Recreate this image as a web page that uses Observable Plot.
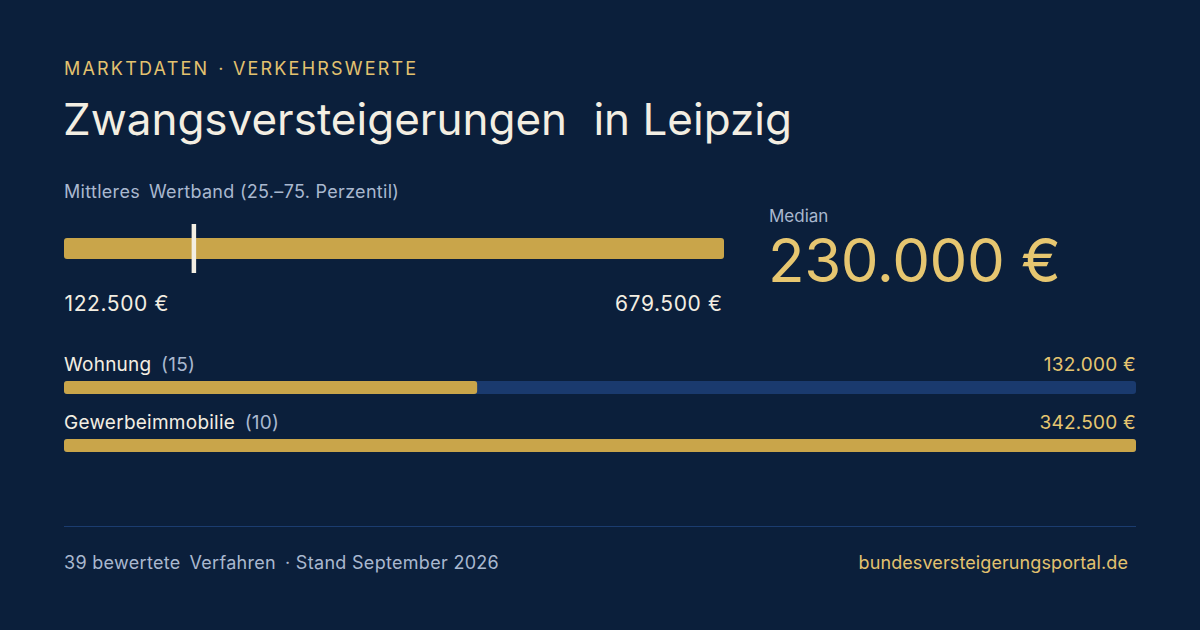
<!DOCTYPE html>
<html lang="de">
<head>
<meta charset="utf-8">
<script src="https://cdn.jsdelivr.net/npm/d3@7"></script>
<script src="https://cdn.jsdelivr.net/npm/@observablehq/plot@0.6"></script>
<style>
  html, body { margin: 0; padding: 0; }
  body {
    width: 1200px; height: 630px; overflow: hidden; position: relative;
    background: #0b1f3b; font-family: Inter, "Noto Sans", sans-serif; color: #f3eee2;
  }
  .abs { position: absolute; line-height: 1; white-space: nowrap; }
  .gap { display: inline-block; width: 0.5em; }
  #eyebrow { left: 64px; top: 60px; font-size: 18px; letter-spacing: 2.2px; color: #e3c26f; }
  #title { left: 63px; top: 96.5px; font-size: 44px; color: #f3eee2; letter-spacing: 0px; }
  #title .gap { width: 0.6em; }
  #subtitle { left: 64px; top: 182.5px; font-size: 18px; letter-spacing: 0.3px; color: #a9b8cf; }
  #medianLabel { left: 769px; top: 208px; font-size: 17px; color: #a9b8cf; }
  #medianValue { left: 768px; top: 230px; font-size: 60px; color: #e6c670; letter-spacing: -0.4px; }
  #band { left: 64px; top: 220px; }
  #rows { left: 64px; top: 345px; }
  .rowlabel { left: 64px; width: 1072px; font-size: 19px; letter-spacing: 0.25px; display: flex; justify-content: space-between; }
  .rowlabel .cnt { color: #a9b8cf; }
  .rowlabel .val { color: #e6c670; }
  #rule { left: 64px; top: 526px; width: 1072px; height: 1px; background: #1b3c6f; }
  #footL { left: 64px; top: 554px; font-size: 18px; letter-spacing: 0.3px; color: #a9b8cf; }
  #footR { right: 72px; top: 554px; font-size: 18px; letter-spacing: 0.1px; color: #e3c26f; }
</style>
</head>
<body>
<div id="eyebrow" class="abs"></div>
<div id="title" class="abs"></div>
<div id="subtitle" class="abs"></div>
<div id="medianLabel" class="abs"></div>
<div id="medianValue" class="abs"></div>
<div id="band" class="abs"></div>
<div id="rows" class="abs"></div>
<div id="rule" class="abs"></div>
<div id="footL" class="abs"></div>
<div id="footR" class="abs"></div>
<script>
// ---- data ----
const eyebrowParts = ["MARKTDATEN", "· VERKEHRSWERTE"];
const titleParts = ["Zwangsversteigerungen", "in Leipzig"];
const subtitleParts = ["Mittleres", "Wertband (25.–75. Perzentil)"];
const medianLabel = "Median";
const p25 = 122500;
const p75 = 679500;
const median = 230000;
const categories = ["Wohnung", "Gewerbeimmobilie"];
const counts = [15, 10];
const medians = [132000, 342500];
const footerParts = ["39 bewertete", "Verfahren", "· Stand September 2026"];
const source = "bundesversteigerungsportal.de";

const fmt = v => v.toLocaleString("de-DE") + " €";
const join = parts => parts.map(p => `<span>${p}</span>`).join('<span class="gap"></span>');

document.getElementById("eyebrow").innerHTML = join(eyebrowParts);
document.getElementById("title").innerHTML = join(titleParts);
document.getElementById("subtitle").innerHTML = join(subtitleParts);
document.getElementById("medianLabel").textContent = medianLabel;
document.getElementById("medianValue").textContent = fmt(median);
document.getElementById("footL").innerHTML = join(footerParts);
document.getElementById("footR").textContent = source;

const GOLD = "#c9a54a", CREAM = "#f3eee2", TRACK = "#1a3a6e";

// ---- band chart ----
const bandData = [{k: "IQR", lo: p25, hi: p75, med: median}];
const band = Plot.plot({
  width: 660, height: 100,
  marginTop: 4, marginBottom: 47, marginLeft: 0, marginRight: 0,
  x: {domain: [p25, p75], axis: null},
  y: {domain: ["IQR"], padding: 0, axis: null},
  style: {background: "transparent", fontFamily: "Inter, 'Noto Sans', sans-serif", letterSpacing: "0.6px", overflow: "visible"},
  marks: [
    Plot.barX(bandData, {x1: "lo", x2: "hi", y: "k", fill: GOLD, insetTop: 14, insetBottom: 14, rx: 3}),
    Plot.tickX(bandData, {x: "med", y: "k", dx: 2, stroke: CREAM, strokeWidth: 4.5}),
    Plot.text(bandData, {x: "lo", y: "k", text: d => fmt(d.lo), textAnchor: "start", lineAnchor: "bottom", dy: 61.5, fill: CREAM, fontSize: 21}),
    Plot.text(bandData, {x: "hi", y: "k", text: d => fmt(d.hi), textAnchor: "end", lineAnchor: "bottom", dy: 61.5, dx: -2, fill: CREAM, fontSize: 21})
  ]
});
document.getElementById("band").appendChild(band);

// ---- category rows ----
const maxV = d3.max(medians);
const rows = categories.map((c, i) => ({cat: c, n: counts[i], v: medians[i], max: maxV}));
const rowPlot = Plot.plot({
  width: 1072, height: 116,
  margin: 0,
  x: {domain: [0, maxV], axis: null},
  y: {domain: categories, padding: 0, axis: null},
  style: {background: "transparent", overflow: "visible"},
  marks: [
    Plot.barX(rows, {x1: 0, x2: "max", y: "cat", fill: TRACK, insetTop: 36, insetBottom: 9, rx: 3}),
    Plot.barX(rows, {x1: 0, x2: "v", y: "cat", fill: GOLD, insetTop: 36, insetBottom: 9, rx: 3})
  ]
});
document.getElementById("rows").appendChild(rowPlot);

rows.forEach((r, i) => {
  const div = document.createElement("div");
  div.className = "abs rowlabel";
  div.style.top = (355 + i * 58) + "px";
  div.innerHTML = `<span><span>${r.cat}</span><span class="gap"></span><span class="cnt">(${r.n})</span></span><span class="val">${fmt(r.v)}</span>`;
  document.body.appendChild(div);
});
</script>
</body>
</html>
